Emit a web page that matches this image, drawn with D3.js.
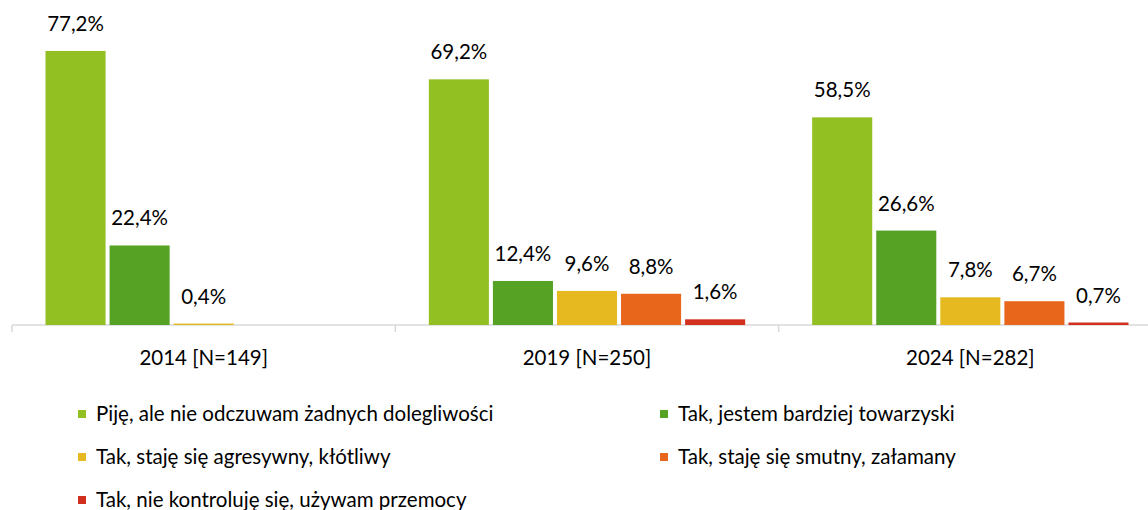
<!DOCTYPE html>
<html>
<head>
<meta charset="utf-8">
<script src="https://cdn.jsdelivr.net/npm/d3@7"></script>
<style>
  body { margin: 0; background: #fff; }
  svg { font-family: Lato, "Open Sans", sans-serif; }
</style>
</head>
<body>
<svg id="chart" width="1148" height="510"></svg>
<script>
// data
const years = ["2014 [N=149]", "2019 [N=250]", "2024 [N=282]"];
const seriesNames = [
    "Piję, ale nie odczuwam żadnych dolegliwości",
    "Tak, jestem bardziej towarzyski",
    "Tak, staję się agresywny, kłótliwy",
    "Tak, staję się smutny, załamany",
    "Tak, nie kontroluję się, używam przemocy"
];
const seriesColors = ["#92C023", "#55A225", "#E6B921", "#E8661B", "#D1301F"];
// values per series, by year (null = no bar)
const s1 = [77.2, 69.2, 58.5];
const s2 = [22.4, 12.4, 26.6];
const s3 = [0.4, 9.6, 7.8];
const s4 = [null, 8.8, 6.7];
const s5 = [null, 1.6, 0.7];
const allSeries = [s1, s2, s3, s4, s5];

const width = 1148, height = 510;
const fontSize = 20.5;
const svg = d3.select("#chart");

const x0 = d3.scaleBand().domain(years).range([12, 1162]).paddingInner(0).paddingOuter(0);
const x1 = d3.scaleBand().domain(d3.range(5))
    .range([33.5, x0.bandwidth() - 33.5]).paddingInner(0.0625).paddingOuter(0);
const y = d3.scaleLinear().domain([0, 90]).range([325, 5.5]);

const fmt = v => d3.format(".1f")(v).replace(".", ",") + "%";

// axis line + group ticks
const axisG = svg.append("g").attr("transform", "translate(0,325)");
axisG.append("line").attr("x1", 12).attr("x2", width).attr("stroke", "#D9D9D9").attr("stroke-width", 1.5);
axisG.selectAll(".tick").data(years.concat(["end"]))
    .join("line")
    .attr("x1", (d, i) => 12 + i * x0.bandwidth())
    .attr("x2", (d, i) => 12 + i * x0.bandwidth())
    .attr("y1", 0).attr("y2", 7)
    .attr("stroke", "#D9D9D9").attr("stroke-width", 1.5);

axisG.selectAll(".cat").data(years)
    .join("text")
    .attr("x", d => x0(d) + x0.bandwidth() / 2)
    .attr("y", 40)
    .attr("text-anchor", "middle")
    .attr("font-size", fontSize)
    .attr("fill", "#000")
    .text(d => d);

// bars
const cells = [];
allSeries.forEach((vals, si) => {
    vals.forEach((v, yi) => {
        if (v !== null) cells.push({ si: si, year: years[yi], value: v });
    });
});

const groups = svg.append("g");
groups.selectAll("rect").data(cells)
    .join("rect")
    .attr("x", d => x0(d.year) + x1(d.si))
    .attr("width", x1.bandwidth())
    .attr("y", d => y(d.value))
    .attr("height", d => y(0) - y(d.value))
    .attr("fill", d => seriesColors[d.si]);

groups.selectAll("text").data(cells)
    .join("text")
    .attr("x", d => x0(d.year) + x1(d.si) + x1.bandwidth() / 2)
    .attr("y", d => y(d.value) - 20)
    .attr("text-anchor", "middle")
    .attr("font-size", fontSize)
    .attr("fill", "#000")
    .text(d => fmt(d.value));

// legend
const legendPos = [[78, 414], [660, 414], [78, 457], [660, 457], [78, 500]];
const legend = svg.append("g");
const item = legend.selectAll("g").data(seriesNames)
    .join("g")
    .attr("transform", (d, i) => "translate(" + legendPos[i][0] + "," + legendPos[i][1] + ")");
item.append("rect")
    .attr("x", 0).attr("y", -4).attr("width", 8).attr("height", 8)
    .attr("fill", (d, i) => seriesColors[i]);
item.append("text")
    .attr("x", 18).attr("y", 7)
    .attr("font-size", fontSize)
    .attr("fill", "#000")
    .text(d => d);
</script>
</body>
</html>
